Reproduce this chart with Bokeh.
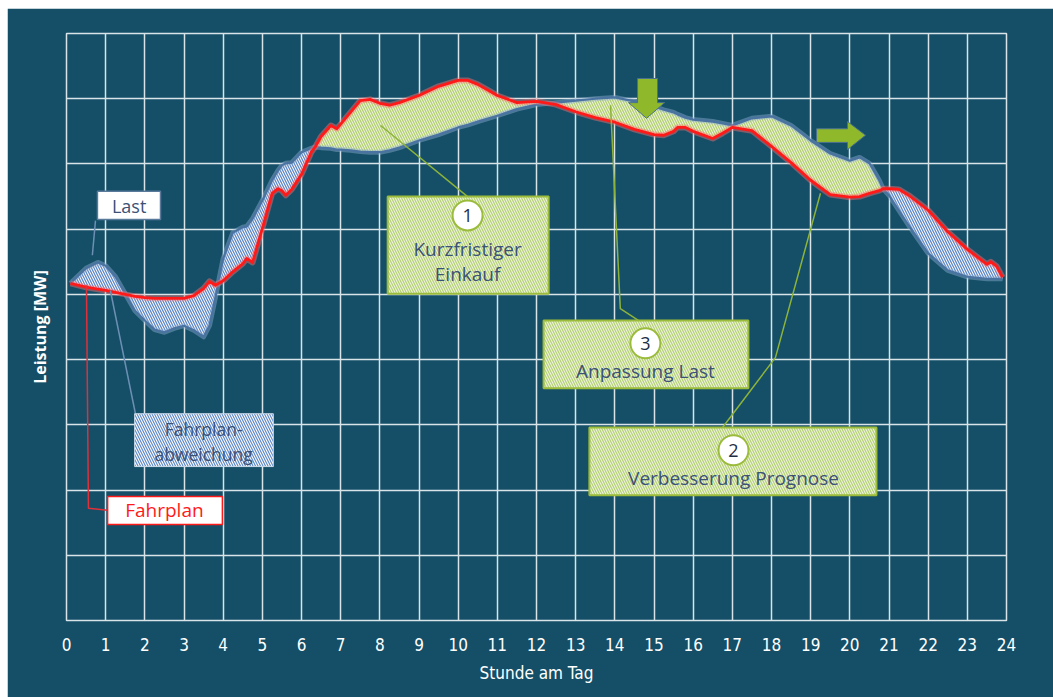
from bokeh.plotting import figure
from bokeh.models import FixedTicker, Range1d, Spacer
from bokeh.layouts import column, row
from bokeh.core.properties import value
from bokeh.embed import file_html
from bokeh.resources import INLINE

# ---- data: hour of day, load (Last) and schedule (Fahrplan) in MW ----
hours = [0.1, 0.5, 0.8, 1.0, 1.25, 1.5, 1.75, 2.0, 2.25, 2.5, 2.75, 3.0, 3.25, 3.5, 3.65, 3.8,
         4.0, 4.25, 4.5, 4.6, 4.75, 5.0, 5.25, 5.4, 5.5, 5.6, 5.75, 6.0, 6.25, 6.35, 6.5, 6.75,
         6.9, 7.0, 7.25, 7.5, 7.75, 8.0, 8.25, 8.5, 9.0, 9.5, 10.0, 10.25, 10.5, 11.0, 11.5, 12.0,
         12.5, 13.0, 13.5, 14.0, 14.5, 15.0, 15.25, 15.5, 15.6, 15.8, 16.0, 16.5, 16.75, 17.0,
         17.5, 18.0, 18.5, 19.0, 19.5, 20.0, 20.25, 20.5, 20.75, 20.85, 21.0, 21.25, 21.5, 22.0,
         22.5, 23.0, 23.5, 23.6, 23.75, 23.9]

fahrplan = [517, 511, 508, 506, 503, 500, 497, 495, 494, 494, 494, 494, 498, 509, 520, 514,
            521, 535, 547, 555, 549, 601, 655, 662, 659, 652, 661, 684, 718, 726, 742, 759,
            754, 761, 779, 797, 799, 793, 790, 794, 805, 819, 828, 828, 822, 805, 794, 796,
            791, 780, 771, 764, 753, 745, 744, 750, 756, 756, 750, 739, 747, 756,
            751, 727, 702, 675, 653, 649, 650, 655, 659, 662, 662, 661, 652, 629,
            596, 569, 546, 550, 543, 526]

last = [517, 540, 549, 544, 527, 501, 475, 460, 446, 442, 448, 452, 445, 435, 452, 495,
        555, 595, 603, 604, 616, 644, 675, 690, 698, 701, 702, 718, 724, 726, 725, 724,
        722, 722, 721, 719, 718, 718, 721, 725, 736, 745, 756, 760, 765, 774, 784, 791,
        794, 797, 800, 802, 796, 788, 783, 779, 776, 771, 768, 765, 762, 759,
        770, 773, 759, 736, 716, 705, 710, 701, 675, 662, 652, 629, 606, 563,
        537, 527, 524, 524, 524, 524]

# hours at which the deviation band changes from schedule deviation to managed band
band_start = 6.35
band_end = 20.85

x_ticks = list(range(0, 25))
y_grid = list(range(0, 1000, 100))

BG = "#144f67"
GRID = "#d9e4e9"
TXT = "#3b5176"
GREEN_EDGE = "#9bbb3b"
GREEN_FILL = "#eef5dc"
GREEN_HATCH = "#b3cf74"
BLUE_HATCH = "#5f88c6"
AXIS_FONT = "DejaVu Sans Condensed"

p = figure(width=1046, height=689, output_backend="svg", toolbar_location=None,
           x_range=Range1d(0, 24), y_range=Range1d(0, 900),
           min_border_left=59, min_border_right=47, min_border_top=25, min_border_bottom=77)
p.background_fill_color = BG
p.border_fill_color = BG
p.outline_line_color = GRID
p.outline_line_width = 1.5

p.xgrid.ticker = FixedTicker(ticks=x_ticks)
p.ygrid.ticker = FixedTicker(ticks=y_grid)
for g in (p.xgrid, p.ygrid):
    g.grid_line_color = GRID
    g.grid_line_width = 1.5

p.xaxis.ticker = FixedTicker(ticks=x_ticks)
p.xaxis.axis_line_color = None
p.xaxis.major_tick_line_color = None
p.xaxis.minor_tick_line_color = None
p.xaxis.major_label_text_color = "white"
p.xaxis.major_label_text_font = AXIS_FONT
p.xaxis.major_label_text_font_size = "17px"
p.xaxis.major_label_standoff = 11
p.xaxis.axis_label = "Stunde am Tag"
p.xaxis.axis_label_text_color = "white"
p.xaxis.axis_label_text_font = AXIS_FONT
p.xaxis.axis_label_text_font_style = "normal"
p.xaxis.axis_label_text_font_size = "17px"
p.xaxis.axis_label_standoff = 9

# the power axis carries only its title
p.yaxis.ticker = FixedTicker(ticks=[])
p.yaxis.axis_line_color = None
p.yaxis.major_tick_line_color = None
p.yaxis.minor_tick_line_color = None
p.yaxis.major_label_standoff = 0
p.yaxis.axis_label = "Leistung [MW]"
p.yaxis.axis_label_text_color = "white"
p.yaxis.axis_label_text_font = "Open Sans"
p.yaxis.axis_label_text_font_style = "bold"
p.yaxis.axis_label_text_font_size = "16px"
p.yaxis.axis_label_standoff = 16

# ---- split the band between the two curves ----
i0 = hours.index(band_start)
i1 = hours.index(band_end)

blue_segments = [(0, i0 + 1), (i1, len(hours))]
for a, b in blue_segments:
    p.varea(x=hours[a:b], y1=fahrplan[a:b], y2=last[a:b], fill_color="white",
            hatch_pattern="\\", hatch_color=BLUE_HATCH, hatch_scale=5, hatch_weight=1.3)
p.varea(x=hours[i0:i1 + 1], y1=fahrplan[i0:i1 + 1], y2=last[i0:i1 + 1], fill_color=GREEN_FILL,
        hatch_pattern="\\", hatch_color=GREEN_HATCH, hatch_scale=5, hatch_weight=1.3)

# load curve with soft halo
p.line(hours, last, line_color="#8fb0d2", line_width=5, line_alpha=0.45, line_join="round")
p.line(hours, last, line_color="#4a73a2", line_width=2.2, line_join="round")
# schedule curve with soft halo
p.line(hours, fahrplan, line_color="#ff7070", line_width=6, line_alpha=0.45, line_join="round")
p.line(hours, fahrplan, line_color="#ff1a1a", line_width=2.8, line_join="round")

# ---- arrows ----
p.patch(x=[14.58, 15.09, 15.09, 15.27, 14.81, 14.35, 14.58, 14.58],
        y=[831, 831, 794, 794, 770, 794, 794, 831],
        fill_color="#8fb82a", line_color="#4a7090", line_width=1)
p.patch(x=[19.15, 19.94, 19.94, 20.40, 19.94, 19.94, 19.15, 19.15],
        y=[754, 754, 765, 744, 722, 733, 733, 754],
        fill_color="#8fb82a", line_color="#4a7090", line_width=1)

# ---- callouts on the left ----
p.line([0.74, 0.66], [613, 560], line_color="#6d8fb3", line_width=1.5)
p.quad(left=[0.79], right=[2.40], top=[658], bottom=[615], fill_color="white",
       line_color="#5a7a9c", line_width=1.5)
p.text(x=[1.6], y=[636], text=["Last"], text_align="center", text_baseline="middle",
       text_font=value("Open Sans"), text_font_size="18px", text_color=TXT)

p.line([1.12, 1.76], [506, 317], line_color="#6d8fb3", line_width=1.5)
p.quad(left=[1.74], right=[5.28], top=[317], bottom=[236], fill_color="white",
       hatch_pattern="\\", hatch_color=BLUE_HATCH, hatch_scale=5, hatch_weight=1.2,
       line_color="#c9d8ea", line_width=1)
p.text(x=[3.5, 3.5], y=[294, 255], text=["Fahrplan-", "abweichung"], text_align="center",
       text_baseline="middle", text_font=value("Open Sans"), text_font_size="17.5px", text_color=TXT)

p.line([0.51, 0.56, 1.05], [514, 172, 169], line_color="#e0303a", line_width=1.5)
p.quad(left=[1.05], right=[3.98], top=[190], bottom=[147], fill_color="white",
       line_color="#ff1a1a", line_width=1.5)
p.text(x=[2.5], y=[169], text=["Fahrplan"], text_align="center", text_baseline="middle",
       text_font=value("Open Sans"), text_font_size="19px", text_color="#ff1a1a")

# ---- numbered measures ----
LEAD = "#8db33a"
p.line([8.02, 10.24], [759, 650], line_color=LEAD, line_width=1.5)
p.line([13.89, 14.14, 14.60], [790, 478, 460], line_color=LEAD, line_width=1.5)
p.line([19.25, 18.10, 16.75], [655, 403, 296], line_color=LEAD, line_width=1.5)

box_left = [8.20, 12.18, 13.35]
box_right = [12.31, 17.41, 20.68]
box_top = [650, 460, 296]
box_bottom = [501, 356, 192]
p.quad(left=box_left, right=box_right, top=box_top, bottom=box_bottom, fill_color=GREEN_FILL,
       hatch_pattern="\\", hatch_color=GREEN_HATCH, hatch_scale=5, hatch_weight=1.2,
       line_color=GREEN_EDGE, line_width=2)

num_x = [10.24, 14.78, 17.03]
num_y = [621, 425, 261]
num_text = ["1", "3", "2"]
p.scatter(x=num_x, y=num_y, size=30, marker="circle", fill_color="white",
          line_color=GREEN_EDGE, line_width=2)
p.text(x=num_x, y=num_y, text=num_text, text_align="center", text_baseline="middle",
       text_font=value("Open Sans"), text_font_size="18px", text_color="#1f2d45")

p.text(x=[10.24, 10.24, 14.78, 17.03], y=[570, 532, 382, 218],
       text=["Kurzfristiger", "Einkauf", "Anpassung Last", "Verbesserung Prognose"],
       text_align="center", text_baseline="middle", text_font=value("Open Sans"),
       text_font_size="19px", text_color=TXT)

layout = column(Spacer(height=8), row(Spacer(width=7), p))
open("out.html", "w").write(file_html(layout, INLINE))
